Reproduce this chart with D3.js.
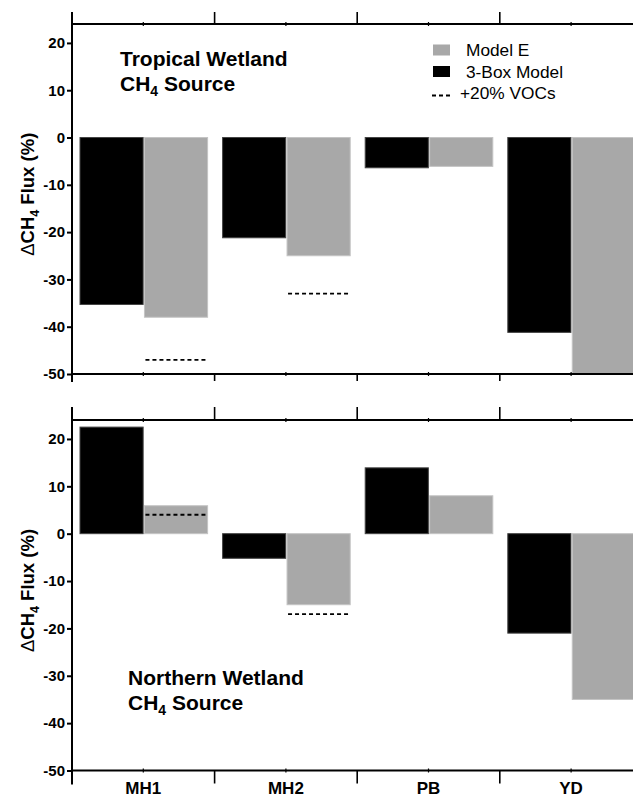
<!DOCTYPE html>
<html>
<head>
<meta charset="utf-8">
<script src="https://cdn.jsdelivr.net/npm/d3@7"></script>
<style>
  body { margin: 0; background: #fff; }
  svg { display: block; font-family: "Liberation Sans", Arial, Helvetica, sans-serif; }
</style>
</head>
<body>
<svg id="chart" width="633" height="797"></svg>
<script>
// values
const categories = ["MH1", "MH2", "PB", "YD"];
const series = ["3-Box Model", "Model E"];

const tropicalBox = [-35.3, -21.2, -6.4, -41.2];
const tropicalModelE = [-38, -25, -6.1, -50];
const tropicalVOC = [-47, -33, null, null];

const northernBox = [22.5, -5.2, 13.9, -21];
const northernModelE = [5.9, -15, 8, -35];
const northernVOC = [4, -17, null, null];

const yTicks = [-50, -40, -30, -20, -10, 0, 10, 20];
const yDomain = [-50, 24];

const colors = { "3-Box Model": "#000", "Model E": "#a8a8a8" };
const edges = { "3-Box Model": "#444", "Model E": "#c4c4c4" };

const svg = d3.select("#chart");
const left = 72;

const x = d3.scaleBand().domain(categories).range([left, 642.4]).padding(0);
const xs = d3.scaleBand().domain(series).range([8, x.bandwidth() - 7]).paddingInner(0.02);

const panels = [
  { top: 24, bottom: 374, box: tropicalBox, me: tropicalModelE, voc: tropicalVOC,
    title: "Tropical Wetland", tx: 120, ty: 66, tickUp: 12, tickDown: 7, legend: true, labels: false },
  { top: 420, bottom: 770.5, box: northernBox, me: northernModelE, voc: northernVOC,
    title: "Northern Wetland", tx: 128, ty: 684.5, tickUp: 13, tickDown: 13, legend: false, labels: true }
];

panels.forEach(p => {
  const g = svg.append("g");
  const y = d3.scaleLinear().domain(yDomain).range([p.bottom, p.top]);

  // bars
  const rows = categories.map((c, i) => ({ c: c, vals: [
    { s: "3-Box Model", v: p.box[i] }, { s: "Model E", v: p.me[i] }
  ] }));
  const grp = g.selectAll(".grp").data(rows).enter().append("g")
    .attr("transform", d => `translate(${x(d.c)},0)`);
  grp.selectAll("rect").data(d => d.vals).enter().append("rect")
    .attr("x", d => xs(d.s))
    .attr("width", xs.bandwidth())
    .attr("y", d => y(Math.max(0, d.v)))
    .attr("height", d => Math.abs(y(d.v) - y(0)))
    .attr("fill", d => colors[d.s])
    .attr("stroke", d => edges[d.s])
    .attr("stroke-width", 1);

  // +20% VOC dashed lines over the Model E bars
  const vocData = categories.map((c, i) => ({ c: c, v: p.voc[i] })).filter(d => d.v !== null);
  g.selectAll(".voc").data(vocData).enter().append("line")
    .attr("x1", d => x(d.c) + xs("Model E") + 1)
    .attr("x2", d => x(d.c) + xs("Model E") + xs.bandwidth() - 1)
    .attr("y1", d => y(d.v)).attr("y2", d => y(d.v))
    .attr("stroke", "#000").attr("stroke-width", 1.8).attr("stroke-dasharray", "4,3");

  // frame lines
  g.append("line").attr("x1", left).attr("x2", 633).attr("y1", p.top).attr("y2", p.top)
    .attr("stroke", "#000").attr("stroke-width", 2);
  g.append("line").attr("x1", left).attr("x2", 633).attr("y1", p.bottom).attr("y2", p.bottom)
    .attr("stroke", "#000").attr("stroke-width", 2);
  g.append("line").attr("x1", left).attr("x2", left)
    .attr("y1", p.top - p.tickUp).attr("y2", p.bottom + p.tickDown + 1)
    .attr("stroke", "#000").attr("stroke-width", 2);

  // group boundary ticks and tiny centre ticks
  const bounds = categories.slice(1).map(c => x(c));
  g.selectAll(".tu").data(bounds).enter().append("line")
    .attr("x1", d => d).attr("x2", d => d)
    .attr("y1", p.top).attr("y2", p.top - p.tickUp)
    .attr("stroke", "#000").attr("stroke-width", 1.6);
  g.selectAll(".td").data(bounds).enter().append("line")
    .attr("x1", d => d).attr("x2", d => d)
    .attr("y1", p.bottom).attr("y2", p.bottom + p.tickDown)
    .attr("stroke", "#000").attr("stroke-width", 1.6);
  const centres = categories.map(c => x(c) + x.bandwidth() / 2);
  [p.top, p.bottom].forEach(yy => {
    g.selectAll(null).data(centres).enter().append("line")
      .attr("x1", d => d).attr("x2", d => d)
      .attr("y1", yy - 2).attr("y2", yy + 2)
      .attr("stroke", "#000").attr("stroke-width", 1.2);
  });

  // y axis ticks and labels
  const ax = g.append("g").attr("transform", `translate(${left},0)`)
    .call(d3.axisLeft(y).tickValues(yTicks).tickFormat(d => String(d))
      .tickSize(5).tickPadding(2).tickSizeOuter(0));
  ax.attr("font-family", null).attr("font-size", null);
  ax.select(".domain").remove();
  ax.selectAll(".tick line").attr("stroke-width", 2);
  ax.selectAll(".tick text").attr("font-size", 15).attr("font-weight", "bold").attr("fill", "#000");

  // y axis title
  const yl = g.append("text")
    .attr("transform", `translate(33.5,${y(-12)}) rotate(-90)`)
    .attr("text-anchor", "middle").attr("font-size", 18.5).attr("font-weight", "bold");
  yl.append("tspan").attr("font-weight", "normal").text("\u0394");
  yl.append("tspan").text("CH");
  yl.append("tspan").attr("font-size", 12.5).attr("dy", 5).text("4");
  yl.append("tspan").attr("dy", -5).text(" Flux (%)");

  // panel title
  g.append("text").attr("x", p.tx).attr("y", p.ty)
    .attr("font-size", 21).attr("font-weight", "bold").text(p.title);
  const t2 = g.append("text").attr("x", p.tx).attr("y", p.ty + 25)
    .attr("font-size", 21).attr("font-weight", "bold");
  t2.append("tspan").text("CH");
  t2.append("tspan").attr("font-size", 14).attr("dy", 5).text("4");
  t2.append("tspan").attr("dy", -5).text(" Source");

  // category labels
  if (p.labels) {
    g.selectAll(".cat").data(categories).enter().append("text")
      .attr("x", d => x(d) + x.bandwidth() / 2).attr("y", 794)
      .attr("text-anchor", "middle").attr("font-size", 17).attr("font-weight", "bold")
      .text(d => d);
  }

  // legend
  if (p.legend) {
    const lg = g.append("g").attr("font-size", 17.3);
    const items = [
      { label: "Model E", fill: colors["Model E"], y: 44.5 },
      { label: "3-Box Model", fill: colors["3-Box Model"], y: 66 }
    ];
    items.forEach(it => {
      lg.append("rect").attr("x", 433).attr("y", it.y).attr("width", 17).attr("height", 11).attr("fill", it.fill);
      lg.append("text").attr("x", 466).attr("y", it.y + 11.5).text(it.label);
    });
    lg.append("line").attr("x1", 432).attr("x2", 450).attr("y1", 95.5).attr("y2", 95.5)
      .attr("stroke", "#000").attr("stroke-width", 1.8).attr("stroke-dasharray", "4,3");
    lg.append("text").attr("x", 460).attr("y", 98.5).text("+20% VOCs");
  }
});
</script>
</body>
</html>
